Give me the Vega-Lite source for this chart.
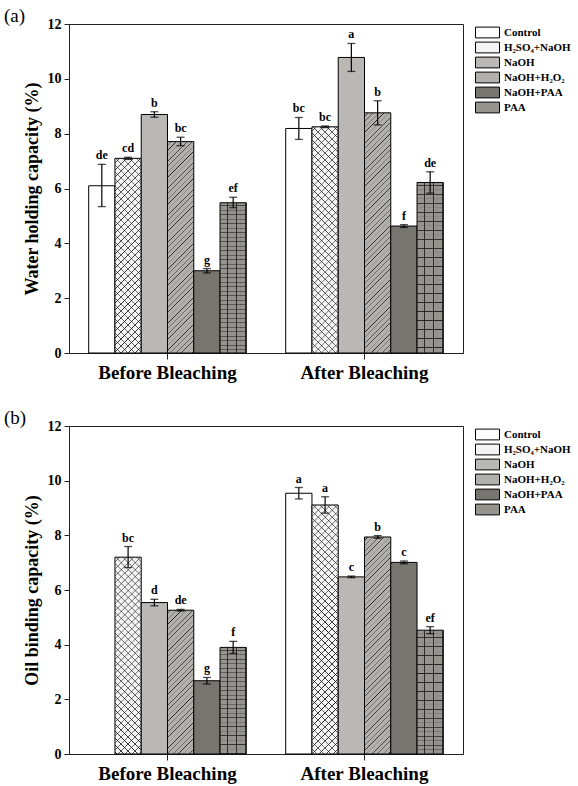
{
  "$schema": "https://vega.github.io/schema/vega-lite/v6.json",
  "padding": {"left": 3, "top": 6, "right": 5, "bottom": 0},
  "background": "white",
  "params": [
    {"name": "hs", "value": [
      {"offset":0.011,"color":"rgba(0,0,0,0)"},{"offset":0.013,"color":"#222"},{"offset":0.015,"color":"rgba(0,0,0,0)"},
      {"offset":0.031,"color":"rgba(0,0,0,0)"},{"offset":0.033,"color":"#222"},{"offset":0.035,"color":"rgba(0,0,0,0)"},
      {"offset":0.051,"color":"rgba(0,0,0,0)"},{"offset":0.053,"color":"#222"},{"offset":0.055,"color":"rgba(0,0,0,0)"},
      {"offset":0.071,"color":"rgba(0,0,0,0)"},{"offset":0.073,"color":"#222"},{"offset":0.075,"color":"rgba(0,0,0,0)"},
      {"offset":0.091,"color":"rgba(0,0,0,0)"},{"offset":0.093,"color":"#222"},{"offset":0.095,"color":"rgba(0,0,0,0)"},
      {"offset":0.111,"color":"rgba(0,0,0,0)"},{"offset":0.113,"color":"#222"},{"offset":0.115,"color":"rgba(0,0,0,0)"},
      {"offset":0.131,"color":"rgba(0,0,0,0)"},{"offset":0.133,"color":"#222"},{"offset":0.135,"color":"rgba(0,0,0,0)"},
      {"offset":0.151,"color":"rgba(0,0,0,0)"},{"offset":0.153,"color":"#222"},{"offset":0.155,"color":"rgba(0,0,0,0)"},
      {"offset":0.171,"color":"rgba(0,0,0,0)"},{"offset":0.173,"color":"#222"},{"offset":0.175,"color":"rgba(0,0,0,0)"},
      {"offset":0.191,"color":"rgba(0,0,0,0)"},{"offset":0.193,"color":"#222"},{"offset":0.195,"color":"rgba(0,0,0,0)"},
      {"offset":0.211,"color":"rgba(0,0,0,0)"},{"offset":0.213,"color":"#222"},{"offset":0.215,"color":"rgba(0,0,0,0)"},
      {"offset":0.231,"color":"rgba(0,0,0,0)"},{"offset":0.233,"color":"#222"},{"offset":0.235,"color":"rgba(0,0,0,0)"},
      {"offset":0.251,"color":"rgba(0,0,0,0)"},{"offset":0.253,"color":"#222"},{"offset":0.255,"color":"rgba(0,0,0,0)"},
      {"offset":0.271,"color":"rgba(0,0,0,0)"},{"offset":0.273,"color":"#222"},{"offset":0.275,"color":"rgba(0,0,0,0)"},
      {"offset":0.291,"color":"rgba(0,0,0,0)"},{"offset":0.293,"color":"#222"},{"offset":0.295,"color":"rgba(0,0,0,0)"},
      {"offset":0.311,"color":"rgba(0,0,0,0)"},{"offset":0.313,"color":"#222"},{"offset":0.315,"color":"rgba(0,0,0,0)"},
      {"offset":0.331,"color":"rgba(0,0,0,0)"},{"offset":0.333,"color":"#222"},{"offset":0.335,"color":"rgba(0,0,0,0)"},
      {"offset":0.351,"color":"rgba(0,0,0,0)"},{"offset":0.353,"color":"#222"},{"offset":0.355,"color":"rgba(0,0,0,0)"},
      {"offset":0.371,"color":"rgba(0,0,0,0)"},{"offset":0.373,"color":"#222"},{"offset":0.375,"color":"rgba(0,0,0,0)"},
      {"offset":0.391,"color":"rgba(0,0,0,0)"},{"offset":0.393,"color":"#222"},{"offset":0.395,"color":"rgba(0,0,0,0)"},
      {"offset":0.411,"color":"rgba(0,0,0,0)"},{"offset":0.413,"color":"#222"},{"offset":0.415,"color":"rgba(0,0,0,0)"},
      {"offset":0.431,"color":"rgba(0,0,0,0)"},{"offset":0.433,"color":"#222"},{"offset":0.435,"color":"rgba(0,0,0,0)"},
      {"offset":0.451,"color":"rgba(0,0,0,0)"},{"offset":0.453,"color":"#222"},{"offset":0.455,"color":"rgba(0,0,0,0)"},
      {"offset":0.471,"color":"rgba(0,0,0,0)"},{"offset":0.473,"color":"#222"},{"offset":0.475,"color":"rgba(0,0,0,0)"},
      {"offset":0.491,"color":"rgba(0,0,0,0)"},{"offset":0.493,"color":"#222"},{"offset":0.495,"color":"rgba(0,0,0,0)"},
      {"offset":0.511,"color":"rgba(0,0,0,0)"},{"offset":0.513,"color":"#222"},{"offset":0.515,"color":"rgba(0,0,0,0)"},
      {"offset":0.531,"color":"rgba(0,0,0,0)"},{"offset":0.533,"color":"#222"},{"offset":0.535,"color":"rgba(0,0,0,0)"},
      {"offset":0.551,"color":"rgba(0,0,0,0)"},{"offset":0.553,"color":"#222"},{"offset":0.555,"color":"rgba(0,0,0,0)"},
      {"offset":0.571,"color":"rgba(0,0,0,0)"},{"offset":0.573,"color":"#222"},{"offset":0.575,"color":"rgba(0,0,0,0)"},
      {"offset":0.591,"color":"rgba(0,0,0,0)"},{"offset":0.593,"color":"#222"},{"offset":0.595,"color":"rgba(0,0,0,0)"},
      {"offset":0.611,"color":"rgba(0,0,0,0)"},{"offset":0.613,"color":"#222"},{"offset":0.615,"color":"rgba(0,0,0,0)"},
      {"offset":0.631,"color":"rgba(0,0,0,0)"},{"offset":0.633,"color":"#222"},{"offset":0.635,"color":"rgba(0,0,0,0)"},
      {"offset":0.651,"color":"rgba(0,0,0,0)"},{"offset":0.653,"color":"#222"},{"offset":0.655,"color":"rgba(0,0,0,0)"},
      {"offset":0.671,"color":"rgba(0,0,0,0)"},{"offset":0.673,"color":"#222"},{"offset":0.675,"color":"rgba(0,0,0,0)"},
      {"offset":0.691,"color":"rgba(0,0,0,0)"},{"offset":0.693,"color":"#222"},{"offset":0.695,"color":"rgba(0,0,0,0)"},
      {"offset":0.711,"color":"rgba(0,0,0,0)"},{"offset":0.713,"color":"#222"},{"offset":0.715,"color":"rgba(0,0,0,0)"},
      {"offset":0.731,"color":"rgba(0,0,0,0)"},{"offset":0.733,"color":"#222"},{"offset":0.735,"color":"rgba(0,0,0,0)"},
      {"offset":0.751,"color":"rgba(0,0,0,0)"},{"offset":0.753,"color":"#222"},{"offset":0.755,"color":"rgba(0,0,0,0)"},
      {"offset":0.771,"color":"rgba(0,0,0,0)"},{"offset":0.773,"color":"#222"},{"offset":0.775,"color":"rgba(0,0,0,0)"},
      {"offset":0.791,"color":"rgba(0,0,0,0)"},{"offset":0.793,"color":"#222"},{"offset":0.795,"color":"rgba(0,0,0,0)"},
      {"offset":0.811,"color":"rgba(0,0,0,0)"},{"offset":0.813,"color":"#222"},{"offset":0.815,"color":"rgba(0,0,0,0)"},
      {"offset":0.831,"color":"rgba(0,0,0,0)"},{"offset":0.833,"color":"#222"},{"offset":0.835,"color":"rgba(0,0,0,0)"},
      {"offset":0.851,"color":"rgba(0,0,0,0)"},{"offset":0.853,"color":"#222"},{"offset":0.855,"color":"rgba(0,0,0,0)"},
      {"offset":0.871,"color":"rgba(0,0,0,0)"},{"offset":0.873,"color":"#222"},{"offset":0.875,"color":"rgba(0,0,0,0)"},
      {"offset":0.891,"color":"rgba(0,0,0,0)"},{"offset":0.893,"color":"#222"},{"offset":0.895,"color":"rgba(0,0,0,0)"},
      {"offset":0.911,"color":"rgba(0,0,0,0)"},{"offset":0.913,"color":"#222"},{"offset":0.915,"color":"rgba(0,0,0,0)"},
      {"offset":0.931,"color":"rgba(0,0,0,0)"},{"offset":0.933,"color":"#222"},{"offset":0.935,"color":"rgba(0,0,0,0)"},
      {"offset":0.951,"color":"rgba(0,0,0,0)"},{"offset":0.953,"color":"#222"},{"offset":0.955,"color":"rgba(0,0,0,0)"},
      {"offset":0.971,"color":"rgba(0,0,0,0)"},{"offset":0.973,"color":"#222"},{"offset":0.975,"color":"rgba(0,0,0,0)"},
      {"offset":0.991,"color":"rgba(0,0,0,0)"},{"offset":0.993,"color":"#222"},{"offset":0.995,"color":"rgba(0,0,0,0)"}
    ]}
  ],
  "datasets": {
    "wa": [
      {"g": "Before Bleaching", "t": "Control", "v": 6.10, "lo": 5.34, "hi": 6.88, "lab": "de"},
      {"g": "Before Bleaching", "t": "H₂SO₄+NaOH", "v": 7.10, "lo": 7.06, "hi": 7.14, "lab": "cd"},
      {"g": "Before Bleaching", "t": "NaOH", "v": 8.70, "lo": 8.60, "hi": 8.80, "lab": "b"},
      {"g": "Before Bleaching", "t": "NaOH+H₂O₂", "v": 7.71, "lo": 7.56, "hi": 7.87, "lab": "bc"},
      {"g": "Before Bleaching", "t": "NaOH+PAA", "v": 3.00, "lo": 2.92, "hi": 3.08, "lab": "g"},
      {"g": "Before Bleaching", "t": "PAA", "v": 5.48, "lo": 5.30, "hi": 5.68, "lab": "ef"},
      {"g": "After Bleaching", "t": "Control", "v": 8.19, "lo": 7.79, "hi": 8.59, "lab": "bc"},
      {"g": "After Bleaching", "t": "H₂SO₄+NaOH", "v": 8.25, "lo": 8.22, "hi": 8.28, "lab": "bc"},
      {"g": "After Bleaching", "t": "NaOH", "v": 10.78, "lo": 10.27, "hi": 11.29, "lab": "a"},
      {"g": "After Bleaching", "t": "NaOH+H₂O₂", "v": 8.76, "lo": 8.32, "hi": 9.20, "lab": "b"},
      {"g": "After Bleaching", "t": "NaOH+PAA", "v": 4.63, "lo": 4.58, "hi": 4.68, "lab": "f"},
      {"g": "After Bleaching", "t": "PAA", "v": 6.22, "lo": 5.83, "hi": 6.61, "lab": "de"}
    ],
    "ob": [
      {"g": "Before Bleaching", "t": "H₂SO₄+NaOH", "v": 7.20, "lo": 6.82, "hi": 7.59, "lab": "bc"},
      {"g": "Before Bleaching", "t": "NaOH", "v": 5.54, "lo": 5.42, "hi": 5.66, "lab": "d"},
      {"g": "Before Bleaching", "t": "NaOH+H₂O₂", "v": 5.26, "lo": 5.23, "hi": 5.29, "lab": "de"},
      {"g": "Before Bleaching", "t": "NaOH+PAA", "v": 2.68, "lo": 2.56, "hi": 2.80, "lab": "g"},
      {"g": "Before Bleaching", "t": "PAA", "v": 3.90, "lo": 3.68, "hi": 4.12, "lab": "f"},
      {"g": "After Bleaching", "t": "Control", "v": 9.54, "lo": 9.33, "hi": 9.75, "lab": "a"},
      {"g": "After Bleaching", "t": "H₂SO₄+NaOH", "v": 9.11, "lo": 8.81, "hi": 9.41, "lab": "a"},
      {"g": "After Bleaching", "t": "NaOH", "v": 6.48, "lo": 6.45, "hi": 6.51, "lab": "c"},
      {"g": "After Bleaching", "t": "NaOH+H₂O₂", "v": 7.94, "lo": 7.89, "hi": 7.99, "lab": "b"},
      {"g": "After Bleaching", "t": "NaOH+PAA", "v": 7.01, "lo": 6.96, "hi": 7.06, "lab": "c"},
      {"g": "After Bleaching", "t": "PAA", "v": 4.53, "lo": 4.40, "hi": 4.66, "lab": "ef"}
    ]
  },
  "spacing": 25,
  "resolve": {"scale": {"x": "independent", "y": "independent", "fill": "independent"}, "legend": {"fill": "independent"}},
  "vconcat": [
    {
      "data": {"name": "wa"},
      "width": 394,
      "height": 329,
      "title": {"text": "(a)", "anchor": "start", "frame": "group", "dx": -65, "fontSize": 19, "font": "Liberation Serif", "fontWeight": "normal", "offset": -9, "color": "black"},
      "encoding": {
        "x": {"field": "g", "type": "nominal", "sort": ["Before Bleaching", "After Bleaching"], "scale": {"paddingInner": 0.2, "paddingOuter": 0.1}, "axis": {"title": null, "labelAngle": 0, "labelFontSize": 19, "labelPadding": 4, "tickSize": 6}},
        "xOffset": {"field": "t", "type": "nominal", "scale": {"domain": ["Control", "H₂SO₄+NaOH", "NaOH", "NaOH+H₂O₂", "NaOH+PAA", "PAA"], "paddingInner": 0, "paddingOuter": 0}}
      },
      "layer": [
        {
          "mark": {"type": "bar", "stroke": "black", "strokeWidth": 1},
          "encoding": {
            "y": {"field": "v", "type": "quantitative", "title": "Water holding capacity (%)", "scale": {"domain": [0, 12], "nice": false}, "axis": {"values": [0, 1, 2, 3, 4, 5, 6, 7, 8, 9, 10, 11, 12], "labelExpr": "datum.value % 2 ? '' : datum.label", "tickSize": {"condition": {"test": "datum.value % 2", "value": 3}, "value": 5}}},
            "fill": {"field": "t", "type": "nominal", "scale": {"domain": ["Control", "H₂SO₄+NaOH", "NaOH", "NaOH+H₂O₂", "NaOH+PAA", "PAA"], "range": ["#ffffff", "#f4f4f4", "#bab8b5", "#b2b0ad", "#77756f", "#96948f"]}, "legend": {"title": null}}
          }
        },
        {"transform": [{"filter": "datum.t === 'NaOH+H₂O₂'"}], "mark": {"type": "bar", "fill": {"expr": "{gradient:'linear', x1:0, y1:0, x2: 26.3*270/(691.7+pow(datum.v*27.4,2)), y2: datum.v*27.4*270/(691.7+pow(datum.v*27.4,2)), stops: hs}"}}, "encoding": {"y": {"field": "v", "type": "quantitative", "title": "Water holding capacity (%)"}}},
        {"transform": [{"filter": "datum.t === 'H₂SO₄+NaOH'"}], "mark": {"type": "bar", "fill": {"expr": "{gradient:'linear', x1:0, y1:0, x2: 26.3*350/(691.7+pow(datum.v*27.4,2)), y2: datum.v*27.4*350/(691.7+pow(datum.v*27.4,2)), stops: hs}"}}, "encoding": {"y": {"field": "v", "type": "quantitative", "title": "Water holding capacity (%)"}}},
        {"transform": [{"filter": "datum.t === 'H₂SO₄+NaOH'"}], "mark": {"type": "bar", "fill": {"expr": "{gradient:'linear', x1:1, y1:0, x2: 1-26.3*350/(691.7+pow(datum.v*27.4,2)), y2: datum.v*27.4*350/(691.7+pow(datum.v*27.4,2)), stops: hs}"}}, "encoding": {"y": {"field": "v", "type": "quantitative", "title": "Water holding capacity (%)"}}},
        {"transform": [{"filter": "datum.t === 'PAA'"}], "mark": {"type": "bar", "fill": {"expr": "{gradient:'linear', x1:0, y1:0, x2: 8.555, y2: 0, stops: hs}"}}, "encoding": {"y": {"field": "v", "type": "quantitative", "title": "Water holding capacity (%)"}}},
        {"transform": [{"filter": "datum.t === 'PAA'"}], "mark": {"type": "bar", "fill": {"expr": "{gradient:'linear', x1:0, y1:0, x2: 0.000001, y2: 225/(datum.v*27.4), stops: hs}"}}, "encoding": {"y": {"field": "v", "type": "quantitative", "title": "Water holding capacity (%)"}}},
        {"mark": {"type": "rule", "color": "black", "strokeWidth": 1.2}, "encoding": {"y": {"field": "lo", "type": "quantitative", "title": "Water holding capacity (%)"}, "y2": {"field": "hi"}}},
        {"mark": {"type": "tick", "color": "black", "size": 8, "thickness": 1.3}, "encoding": {"y": {"field": "lo", "type": "quantitative", "title": "Water holding capacity (%)"}}},
        {"mark": {"type": "tick", "color": "black", "size": 8, "thickness": 1.3}, "encoding": {"y": {"field": "hi", "type": "quantitative", "title": "Water holding capacity (%)"}}},
        {"mark": {"type": "text", "baseline": "bottom", "dy": -2, "font": "Liberation Serif", "fontWeight": "bold", "fontSize": 12, "color": "black"}, "encoding": {"y": {"field": "hi", "type": "quantitative", "title": "Water holding capacity (%)"}, "text": {"field": "lab"}}}
      ]
    },
    {
      "data": {"name": "ob"},
      "width": 394,
      "height": 328,
      "title": {"text": "(b)", "anchor": "start", "frame": "group", "dx": -65, "fontSize": 19, "font": "Liberation Serif", "fontWeight": "normal", "offset": -9, "color": "black"},
      "encoding": {
        "x": {"field": "g", "type": "nominal", "sort": ["Before Bleaching", "After Bleaching"], "scale": {"paddingInner": 0.2, "paddingOuter": 0.1}, "axis": {"title": null, "labelAngle": 0, "labelFontSize": 19, "labelPadding": 4, "tickSize": 6}},
        "xOffset": {"field": "t", "type": "nominal", "scale": {"domain": ["Control", "H₂SO₄+NaOH", "NaOH", "NaOH+H₂O₂", "NaOH+PAA", "PAA"], "paddingInner": 0, "paddingOuter": 0}}
      },
      "layer": [
        {
          "mark": {"type": "bar", "stroke": "black", "strokeWidth": 1},
          "encoding": {
            "y": {"field": "v", "type": "quantitative", "title": "Oil binding capacity (%)", "scale": {"domain": [0, 12], "nice": false}, "axis": {"values": [0, 1, 2, 3, 4, 5, 6, 7, 8, 9, 10, 11, 12], "labelExpr": "datum.value % 2 ? '' : datum.label", "tickSize": {"condition": {"test": "datum.value % 2", "value": 3}, "value": 5}}},
            "fill": {"field": "t", "type": "nominal", "scale": {"domain": ["Control", "H₂SO₄+NaOH", "NaOH", "NaOH+H₂O₂", "NaOH+PAA", "PAA"], "range": ["#ffffff", "#f4f4f4", "#bab8b5", "#b2b0ad", "#77756f", "#96948f"]}, "legend": {"title": null}}
          }
        },
        {"transform": [{"filter": "datum.t === 'NaOH+H₂O₂'"}], "mark": {"type": "bar", "fill": {"expr": "{gradient:'linear', x1:0, y1:0, x2: 26.3*270/(691.7+pow(datum.v*27.4,2)), y2: datum.v*27.4*270/(691.7+pow(datum.v*27.4,2)), stops: hs}"}}, "encoding": {"y": {"field": "v", "type": "quantitative", "title": "Oil binding capacity (%)"}}},
        {"transform": [{"filter": "datum.t === 'H₂SO₄+NaOH'"}], "mark": {"type": "bar", "fill": {"expr": "{gradient:'linear', x1:0, y1:0, x2: 26.3*350/(691.7+pow(datum.v*27.4,2)), y2: datum.v*27.4*350/(691.7+pow(datum.v*27.4,2)), stops: hs}"}}, "encoding": {"y": {"field": "v", "type": "quantitative", "title": "Oil binding capacity (%)"}}},
        {"transform": [{"filter": "datum.t === 'H₂SO₄+NaOH'"}], "mark": {"type": "bar", "fill": {"expr": "{gradient:'linear', x1:1, y1:0, x2: 1-26.3*350/(691.7+pow(datum.v*27.4,2)), y2: datum.v*27.4*350/(691.7+pow(datum.v*27.4,2)), stops: hs}"}}, "encoding": {"y": {"field": "v", "type": "quantitative", "title": "Oil binding capacity (%)"}}},
        {"transform": [{"filter": "datum.t === 'PAA'"}], "mark": {"type": "bar", "fill": {"expr": "{gradient:'linear', x1:0, y1:0, x2: 8.555, y2: 0, stops: hs}"}}, "encoding": {"y": {"field": "v", "type": "quantitative", "title": "Oil binding capacity (%)"}}},
        {"transform": [{"filter": "datum.t === 'PAA'"}], "mark": {"type": "bar", "fill": {"expr": "{gradient:'linear', x1:0, y1:0, x2: 0.000001, y2: 225/(datum.v*27.4), stops: hs}"}}, "encoding": {"y": {"field": "v", "type": "quantitative", "title": "Oil binding capacity (%)"}}},
        {"mark": {"type": "rule", "color": "black", "strokeWidth": 1.2}, "encoding": {"y": {"field": "lo", "type": "quantitative", "title": "Oil binding capacity (%)"}, "y2": {"field": "hi"}}},
        {"mark": {"type": "tick", "color": "black", "size": 8, "thickness": 1.3}, "encoding": {"y": {"field": "lo", "type": "quantitative", "title": "Oil binding capacity (%)"}}},
        {"mark": {"type": "tick", "color": "black", "size": 8, "thickness": 1.3}, "encoding": {"y": {"field": "hi", "type": "quantitative", "title": "Oil binding capacity (%)"}}},
        {"mark": {"type": "text", "baseline": "bottom", "dy": -2, "font": "Liberation Serif", "fontWeight": "bold", "fontSize": 12, "color": "black"}, "encoding": {"y": {"field": "hi", "type": "quantitative", "title": "Oil binding capacity (%)"}, "text": {"field": "lab"}}}
      ]
    }
  ],
  "config": {
    "view": {"stroke": "#222222", "strokeWidth": 1},
    "axis": {"domainColor": "#222222", "tickColor": "#222222", "labelColor": "black", "titleColor": "black", "labelFont": "Liberation Serif", "labelFontWeight": "bold", "titleFont": "Liberation Serif", "titleFontWeight": "bold", "grid": false},
    "axisY": {"labelFontSize": 14, "titleFontSize": 18, "labelPadding": 3, "titlePadding": 6},
    "legend": {"orient": "right", "offset": 10, "padding": 2, "labelFont": "Liberation Serif", "labelFontWeight": "bold", "labelFontSize": 11, "labelColor": "black", "symbolType": "M-1,-0.9H3V0.9H-1Z", "symbolSize": 144, "symbolStrokeColor": "black", "symbolStrokeWidth": 1, "symbolOpacity": 1, "rowPadding": 0, "labelOffset": 16}
  }
}
